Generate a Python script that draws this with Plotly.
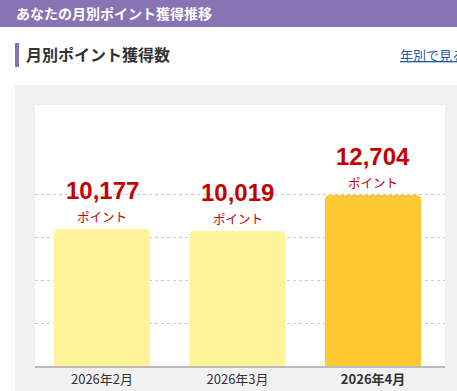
import plotly.graph_objects as go

# ---- data ----
months = ["2026年2月", "2026年3月", "2026年4月"]
points = [10177, 10019, 12704]
unit_label = "ポイント"
grid_values = [3176, 6352, 9528, 12704]
header_title = "あなたの月別ポイント獲得推移"
section_title = "月別ポイント獲得数"
link_text = "年別で見る"

# ---- style ----
W, H = 457, 391
bar_colors = ["#fff39a", "#fff39a", "#ffc933"]
purple = "#8873b4"
red = "#c40000"
JP = "Noto Sans CJK JP"


def px(x):
    return x / W


def py(y):
    return 1 - y / H


fig = go.Figure()
fig.add_trace(go.Bar(
    x=list(range(len(months))),
    y=points,
    marker=dict(color=bar_colors, line=dict(width=0)),
    width=0.71,
    hoverinfo="skip",
))

annotations = []
for i, v in enumerate(points):
    annotations.append(dict(
        x=i, y=v, xref="x", yref="y", text=f"<b>{v:,}</b>",
        showarrow=False, yanchor="middle", yshift=38.5,
        font=dict(family="Liberation Sans", size=24, color=red),
    ))
    annotations.append(dict(
        x=i, y=v, xref="x", yref="y", text=unit_label,
        showarrow=False, yanchor="middle", yshift=12.5,
        font=dict(family=JP, size=12.5, color=red),
    ))

annotations.append(dict(
    x=px(14), y=py(13.5), xref="paper", yref="paper", text=f"<b>{header_title}</b>",
    showarrow=False, xanchor="left", yanchor="middle",
    font=dict(family=JP, size=14, color="white"),
))
annotations.append(dict(
    x=px(24), y=py(54), xref="paper", yref="paper", text=f"<b>{section_title}</b>",
    showarrow=False, xanchor="left", yanchor="middle",
    font=dict(family=JP, size=16, color="#333333"),
))
annotations.append(dict(
    x=px(398), y=py(55), xref="paper", yref="paper", text=f"<u>{link_text}</u>",
    showarrow=False, xanchor="left", yanchor="middle",
    font=dict(family=JP, size=13, color="#1a57a6"),
))

shapes = [
    # header bar
    dict(type="rect", xref="paper", yref="paper", x0=0, x1=1, y0=py(27), y1=1,
         fillcolor=purple, line=dict(width=0), layer="below"),
    # section accent bar
    dict(type="rect", xref="paper", yref="paper", x0=px(15), x1=px(19), y0=py(67), y1=py(43),
         fillcolor=purple, line=dict(width=0), layer="below"),
    # gray panel
    dict(type="rect", xref="paper", yref="paper", x0=px(15), x1=1.05, y0=-0.05, y1=py(85),
         fillcolor="#f1f1f1", line=dict(width=0), layer="below"),
    # white chart area
    dict(type="rect", xref="paper", yref="paper", x0=px(35), x1=px(445), y0=py(366), y1=py(105),
         fillcolor="white", line=dict(width=0), layer="below"),
]

ticktext = [m if i < len(months) - 1 else f"<b>{m}</b>" for i, m in enumerate(months)]

fig.update_layout(
    width=W, height=H,
    margin=dict(l=0, r=0, t=0, b=0),
    paper_bgcolor="white",
    plot_bgcolor="rgba(0,0,0,0)",
    showlegend=False,
    barcornerradius=5,
    font=dict(family=JP, color="#333333"),
    annotations=annotations,
    shapes=shapes,
    xaxis=dict(
        domain=[px(35), px(445)],
        range=[-0.4945, 2.531],
        tickvals=list(range(len(months))),
        ticktext=ticktext,
        tickfont=dict(family=JP, size=13, color="#333333"),
        showgrid=False, zeroline=False,
        showline=True, linecolor="#bbbbbb", linewidth=2,
        ticks="", fixedrange=True,
    ),
    yaxis=dict(
        domain=[py(366), py(105)],
        range=[0, 19380],
        tickvals=grid_values,
        showticklabels=False,
        showgrid=True, gridcolor="#c8c8c8", gridwidth=1, griddash="dot",
        zeroline=False, showline=False, ticks="", fixedrange=True,
    ),
)

fig.write_html(
    "out.html",
    config={"displayModeBar": False},
    post_script="document.body.style.margin='0';document.body.style.overflow='hidden';",
)
